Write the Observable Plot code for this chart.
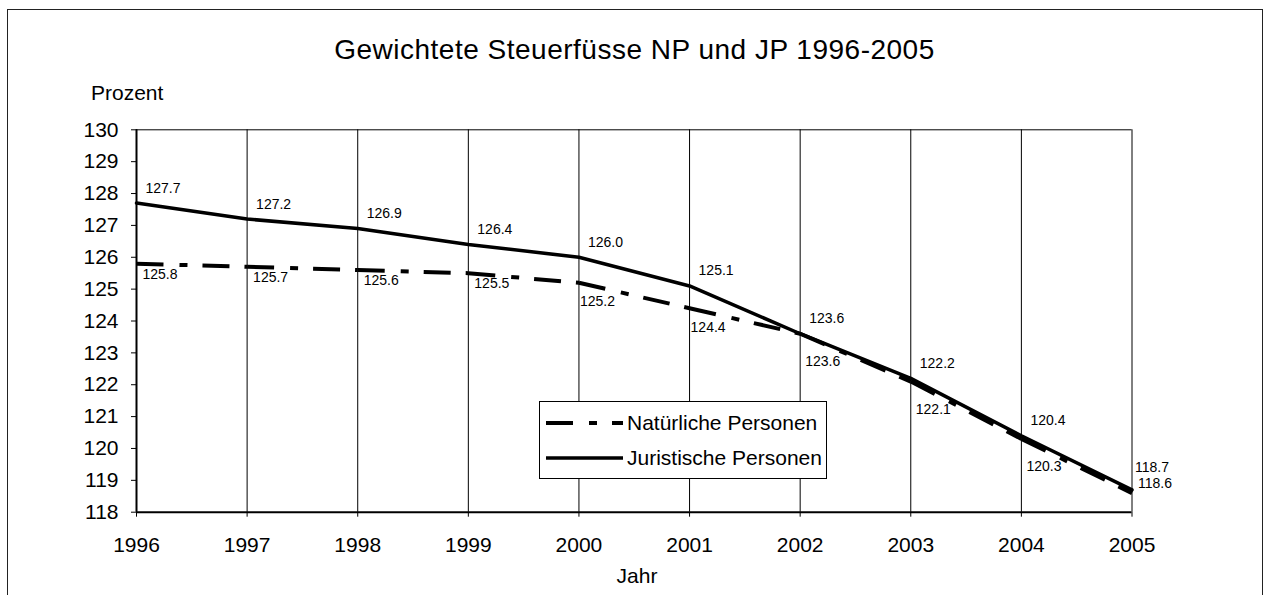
<!DOCTYPE html>
<html>
<head>
<meta charset="utf-8">
<script src="https://cdn.jsdelivr.net/npm/d3@7"></script>
<script src="https://cdn.jsdelivr.net/npm/@observablehq/plot@0.6"></script>
<style>
  body { margin: 0; background: #fff; font-family: "Liberation Sans", Arial, sans-serif; color: #000; }
  #wrap { position: relative; width: 1266px; height: 595px; overflow: hidden; background: #fff; }
  #chart { position: absolute; left: 0; top: 0; }
  #border { position: absolute; left: 7px; top: 8.5px; width: 1256px; height: 620px; border: 1.5px solid #222; box-sizing: border-box; pointer-events: none; }
  .txt { position: absolute; line-height: 1; white-space: nowrap; }
  #title { left: 0; width: 1269px; text-align: center; top: 35.7px; font-size: 28px; letter-spacing: 0.5px; }
  #ylab { left: 91px; top: 82.3px; font-size: 21px; }
  #xlab { left: 0; width: 1274px; text-align: center; top: 565px; font-size: 21px; }
  #legend { position: absolute; left: 539px; top: 401px; width: 288px; height: 78px; border: 1px solid #000; background: #fff; box-sizing: border-box; }
</style>
</head>
<body>
<div id="wrap">
  <div id="chart"></div>
  <div id="border"></div>
  <div class="txt" id="title">Gewichtete Steuerfüsse NP und JP 1996-2005</div>
  <div class="txt" id="ylab">Prozent</div>
  <div class="txt" id="xlab">Jahr</div>
  <div id="legend"></div>
</div>
<script>
// ---- data ----
const years = [1996, 1997, 1998, 1999, 2000, 2001, 2002, 2003, 2004, 2005];
const npValues = [125.8, 125.7, 125.6, 125.5, 125.2, 124.4, 123.6, 122.1, 120.3, 118.6];
const jpValues = [127.7, 127.2, 126.9, 126.4, 126.0, 125.1, 123.6, 122.2, 120.4, 118.7];
const yTicks = [118, 119, 120, 121, 122, 123, 124, 125, 126, 127, 128, 129, 130];
const seriesNames = ["Natürliche Personen", "Juristische Personen"];

const np = years.map((year, i) => ({year, value: npValues[i], i}));
const jp = years.map((year, i) => ({year, value: jpValues[i], i}));
const last = years.length - 1;
// consecutive segments (dash pattern restarts at every data point)
const npSegments = np.slice(0, -1).map((d, i) => ({x1: d.year, y1: d.value, x2: np[i + 1].year, y2: np[i + 1].value}));

const dash = "27,16,8,15,27,15";
const font = '"Liberation Sans", Arial, sans-serif';
const fmt = d => d.value.toFixed(1);

const labelOpts = (extra) => Object.assign({
  x: "year", y: "value", text: fmt, textAnchor: "start", lineAnchor: "middle",
  fontSize: 14, fill: "#000"
}, extra);

const chart = Plot.plot({
  width: 1266,
  height: 595,
  marginLeft: 136,
  marginRight: 134.5,
  marginTop: 129.3,
  marginBottom: 83.3,
  x: {type: "linear", domain: [years[0], years[last]]},
  y: {domain: [yTicks[0], yTicks[yTicks.length - 1]]},
  style: {fontFamily: font, fontSize: "21px", color: "#000", background: "transparent", overflow: "visible"},
  marks: [
    Plot.gridX(years, {stroke: "#000", strokeOpacity: 1, strokeWidth: 1}),
    Plot.ruleY([yTicks[yTicks.length - 1]], {stroke: "#000", strokeWidth: 1}),
    Plot.axisY({ticks: yTicks, tickSize: 5, tickPadding: 13, label: null, tickFormat: d => String(d), fontSize: 21}),
    Plot.axisX({ticks: years, tickSize: 5, tickPadding: 20, label: null, tickFormat: d => String(d), fontSize: 21}),
    Plot.ruleX([years[0]], {stroke: "#000", strokeWidth: 2}),
    Plot.ruleY([yTicks[0]], {stroke: "#000", strokeWidth: 2}),
    Plot.line(jp, {x: "year", y: "value", stroke: "#000", strokeWidth: 3.5}),
    Plot.link(npSegments, {x1: "x1", y1: "y1", x2: "x2", y2: "y2", stroke: "#000", strokeWidth: 4, strokeDasharray: dash, strokeLinecap: "butt"}),
    // labels: Juristische Personen (above)
    Plot.text(jp.filter(d => d.i < last), labelOpts({dx: 9, dy: -15})),
    Plot.text(jp.filter(d => d.i === last), labelOpts({dx: 3, dy: -22})),
    // labels: Natürliche Personen (below)
    Plot.text(np.filter(d => d.i <= 3), labelOpts({dx: 6, dy: 10.5})),
    Plot.text(np.filter(d => d.i >= 4 && d.i <= 5), labelOpts({dx: 1, dy: 19})),
    Plot.text(np.filter(d => d.i >= 6 && d.i < last), labelOpts({dx: 5, dy: 27.5})),
    Plot.text(np.filter(d => d.i === last), labelOpts({dx: 6, dy: -9.5}))
  ]
});
document.getElementById("chart").appendChild(chart);

// ---- legend ----
const lg = d3.select("#legend").append("svg").attr("width", 286).attr("height", 76)
  .style("font-family", font);
const entries = [
  {name: seriesNames[0], dashed: true, y: 21, w: 4},
  {name: seriesNames[1], dashed: false, y: 56, w: 3.5}
];
entries.forEach(e => {
  lg.append("line").attr("x1", 6).attr("x2", 83).attr("y1", e.y).attr("y2", e.y)
    .attr("stroke", "#000").attr("stroke-width", e.w)
    .attr("stroke-dasharray", e.dashed ? dash : null);
  lg.append("text").attr("x", 87).attr("y", e.y).attr("dy", "0.35em")
    .attr("font-size", 21).attr("fill", "#000").text(e.name);
});
</script>
</body>
</html>
